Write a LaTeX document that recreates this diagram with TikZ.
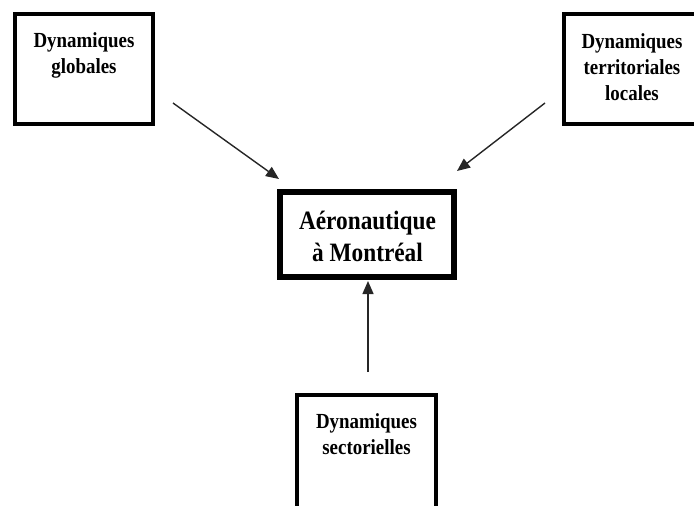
\documentclass[tikz,border=0pt]{standalone}
\usepackage{fontspec}
\setmainfont{Liberation Serif}[FakeStretch=0.88]
\usetikzlibrary{arrows.meta}
\tikzset{
  box/.style={draw=black, line width=3.5pt, fill=white},
  mainbox/.style={draw=black, line width=6pt, fill=white},
  smalltxt/.style={font=\bfseries\fontsize{21.5}{26}\selectfont, align=center, inner sep=0pt, anchor=north},
  bigtxt/.style={font=\bfseries\fontsize{26.5}{32}\selectfont, align=center, inner sep=0pt, anchor=north},
  arr/.style={draw=black!85, line width=1.4pt, -{Triangle[length=13pt,width=11pt]}}
}
\begin{document}
\begin{tikzpicture}[x=1pt,y=-1pt]
\useasboundingbox (0,0) rectangle (694,506);
% boxes
\draw[box] (15,14) rectangle (153,124);
\draw[box] (564,14) rectangle (702,124);
\draw[box] (297,395) rectangle (436,514);
\draw[mainbox] (280,192) rectangle (454,277);
% texts
\node[smalltxt] (t1) at (84,32.5) {Dynamiques\\globales};
\node[smalltxt] (t2) at (632,33.5) {Dynamiques\\territoriales\\locales};
\node[smalltxt] (t4) at (366.5,413.5) {Dynamiques\\sectorielles};
\node[bigtxt] (t3) at (367.5,210.5) {Aéronautique\\à Montréal};
% arrow ends
\coordinate (a1s) at (173,103);
\coordinate (a1e) at (279,179);
\coordinate (a2s) at (545,103);
\coordinate (a2e) at (457,171);
\coordinate (a3s) at (368,372);
\coordinate (a3e) at (368,281);
\draw[arr] (a1s) -- (a1e);
\draw[arr] (a2s) -- (a2e);
\draw[arr] (a3s) -- (a3e);
\end{tikzpicture}
\end{document}
